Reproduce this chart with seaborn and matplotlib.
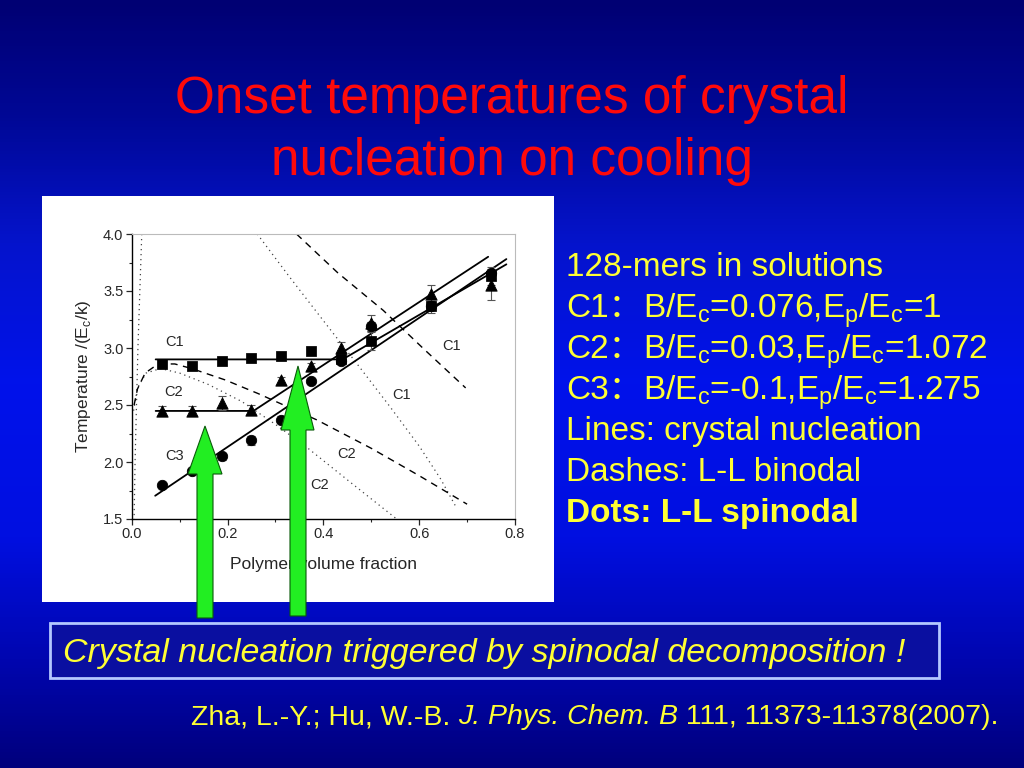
import numpy as np
import pandas as pd
import seaborn as sns
import matplotlib.pyplot as plt
from matplotlib.patches import Rectangle, Polygon
from matplotlib.colors import LinearSegmentedColormap
from matplotlib.ticker import MultipleLocator, FormatStrFormatter

# polymer volume fractions of the simulated points
phi = [0.0625, 0.125, 0.1875, 0.25, 0.3125, 0.375, 0.4375, 0.5, 0.625, 0.75]
# onset temperatures
t_c1 = [2.86, 2.84, 2.89, 2.91, 2.93, 2.97, 2.90, 3.06, 3.37, 3.63]
t_c2 = [2.45, 2.45, 2.52, 2.46, 2.72, 2.84, 3.00, 3.22, 3.47, 3.55]
t_c3 = [1.80, 1.92, 2.05, 2.19, 2.37, 2.71, 2.89, 3.19, 3.37, 3.66]
err_c1 = [0.02, 0.02, 0.02, 0.03, 0.02, 0.02, 0.03, 0.08, 0.06, 0.08]
err_c2 = [0.04, 0.04, 0.06, 0.04, 0.03, 0.03, 0.05, 0.07, 0.08, 0.13]
err_c3 = [0.02, 0.02, 0.03, 0.04, 0.03, 0.03, 0.03, 0.04, 0.04, 0.03]

# crystal nucleation lines
fit_c1_x = [0.05, 0.44, 0.782]
fit_c1_y = [2.90, 2.90, 3.734]
fit_c2_x = [0.05, 0.254, 0.744]
fit_c2_y = [2.448, 2.448, 3.80]
fit_c3_x = [0.049, 0.782]
fit_c3_y = [1.704, 3.78]

# L-L binodals (dashes)
bin_c1_x = [0.344, 0.43, 0.525, 0.61, 0.697]
bin_c1_y = [4.0, 3.66, 3.33, 2.99, 2.65]
bin_c2_x = [0.005, 0.012, 0.028, 0.055, 0.09, 0.125, 0.195, 0.264, 0.386, 0.5, 0.6, 0.7]
bin_c2_y = [2.50, 2.64, 2.78, 2.86, 2.86, 2.82, 2.72, 2.60, 2.37, 2.12, 1.88, 1.63]

# L-L spinodals (dots)
spi_c1_x = [0.262, 0.33, 0.40, 0.476, 0.54, 0.60, 0.645, 0.675]
spi_c1_y = [4.0, 3.62, 3.24, 2.83, 2.48, 2.14, 1.85, 1.62]
spi_c2_x = [0.004, 0.012, 0.03, 0.06, 0.1, 0.16, 0.23, 0.30, 0.368, 0.46, 0.553]
spi_c2_y = [2.45, 2.65, 2.78, 2.82, 2.78, 2.68, 2.53, 2.33, 2.12, 1.81, 1.50]
spi_c3_x = [0.021, 0.017, 0.013, 0.010, 0.007, 0.005]
spi_c3_y = [4.0, 3.5, 3.0, 2.5, 2.0, 1.5]

curve_labels = [("C1", 0.09, 3.05), ("C2", 0.087, 2.61), ("C3", 0.09, 2.05),
                ("C1", 0.668, 3.02), ("C1", 0.563, 2.59),
                ("C2", 0.449, 2.07), ("C2", 0.393, 1.80)]

side_heads = ["", "C1\uff1a", "C2\uff1a", "C3\uff1a", "", "", ""]
side_text = ["128-mers in solutions",
             "B/E$_\\mathregular{c}$=0.076,E$_\\mathregular{p}$/E$_\\mathregular{c}$=1",
             "B/E$_\\mathregular{c}$=0.03,E$_\\mathregular{p}$/E$_\\mathregular{c}$=1.072",
             "B/E$_\\mathregular{c}$=-0.1,E$_\\mathregular{p}$/E$_\\mathregular{c}$=1.275",
             "Lines: crystal nucleation",
             "Dashes: L-L binodal",
             "Dots: L-L spinodal"]

cite_parts = [("Zha, L.-Y.; Hu, W.-B. ", 'normal'), ("J. Phys. Chem. B", 'italic'),
              (" 111, 11373-11378(2007).", 'normal')]

sns.set_style("ticks")
plt.rcParams['font.family'] = ['Liberation Sans', 'Noto Sans CJK SC', 'DejaVu Sans']

W, H = 1024, 768
fig = plt.figure(figsize=(10.24, 7.68), dpi=100)


def fx(px):
    return px / W


def fy(py):
    return 1 - py / H


# slide background
bg = fig.add_axes([0, 0, 1, 1], zorder=-5)
slide = LinearSegmentedColormap.from_list('slide', [
    (0.0, '#000073'), (0.15, '#000896'), (0.32, '#0514cd'), (0.5, '#0012eb'),
    (0.7, '#000fe1'), (0.86, '#0006b0'), (1.0, '#00007d')])
bg.imshow(np.linspace(0, 1, 256)[:, None], aspect='auto', cmap=slide, extent=[0, 1, 0, 1])
bg.axis('off')

# white panel behind the plot
fig.add_artist(Rectangle((fx(42), fy(602)), fx(554) - fx(42), fy(196) - fy(602),
                         transform=fig.transFigure, facecolor='white', edgecolor='none', zorder=-1))

ax = fig.add_axes([fx(131.7), fy(519), fx(515) - fx(131.7), fy(234) - fy(519)])
ax.set_facecolor('white')

for xs, ys in [(spi_c1_x, spi_c1_y), (spi_c2_x, spi_c2_y), (spi_c3_x, spi_c3_y)]:
    sns.lineplot(x=xs, y=ys, ax=ax, sort=False, estimator=None, color='#444444',
                 lw=0.9, linestyle=(0, (1, 3)))
for xs, ys in [(bin_c1_x, bin_c1_y), (bin_c2_x, bin_c2_y)]:
    sns.lineplot(x=xs, y=ys, ax=ax, sort=False, estimator=None, color='black',
                 lw=1.0, linestyle=(0, (5, 4)))
for xs, ys in [(fit_c1_x, fit_c1_y), (fit_c2_x, fit_c2_y), (fit_c3_x, fit_c3_y)]:
    sns.lineplot(x=xs, y=ys, ax=ax, sort=False, estimator=None, color='black', lw=1.3)

for t, e in [(t_c1, err_c1), (t_c2, err_c2), (t_c3, err_c3)]:
    ax.errorbar(phi, t, yerr=e, fmt='none', ecolor='#555555', elinewidth=0.8,
                capsize=3, capthick=0.8, zorder=4)

df = pd.DataFrame({'phi': phi * 3, 'T': t_c1 + t_c2 + t_c3,
                   'case': ['C1'] * 10 + ['C2'] * 10 + ['C3'] * 10})
for case, mk, size in [('C1', 's', 46), ('C2', '^', 66), ('C3', 'o', 56)]:
    sns.scatterplot(data=df[df['case'] == case], x='phi', y='T', marker=mk,
                    color='black', edgecolor='black', s=size, legend=False, ax=ax, zorder=5)

for lab, x, y in curve_labels:
    ax.text(x, y, lab, fontsize=10.5, ha='center', va='center')

ax.set_xlim(0, 0.8)
ax.set_ylim(1.5, 4.0)
ax.xaxis.set_major_locator(MultipleLocator(0.2))
ax.xaxis.set_minor_locator(MultipleLocator(0.1))
ax.yaxis.set_major_locator(MultipleLocator(0.5))
ax.yaxis.set_minor_locator(MultipleLocator(0.25))
ax.xaxis.set_major_formatter(FormatStrFormatter('%.1f'))
ax.yaxis.set_major_formatter(FormatStrFormatter('%.1f'))
ax.tick_params(which='major', direction='out', length=4, width=0.9, labelsize=10.5, pad=2)
ax.tick_params(which='minor', direction='out', length=2.5, width=0.8)
for s in ['top', 'right']:
    ax.spines[s].set_color('#bbbbbb')
    ax.spines[s].set_linewidth(0.8)
for s in ['left', 'bottom']:
    ax.spines[s].set_color('black')
    ax.spines[s].set_linewidth(1.0)
ax.set_xlabel('Polymer volume fraction', fontsize=12.5, labelpad=11)
ax.set_ylabel('Temperature /(E$_\\mathregular{c}$/k)', fontsize=12.5, labelpad=7)

# title
fig.text(fx(512), fy(113), 'Onset temperatures of crystal', color='#ff0a0a',
         fontsize=37, ha='center', va='baseline')
fig.text(fx(512), fy(175), 'nucleation on cooling', color='#ff0a0a',
         fontsize=37, ha='center', va='baseline')

# side notes
for i, (head, body) in enumerate(zip(side_heads, side_text)):
    base = fy(276 + 41 * i)
    weight = 'bold' if i == 6 else 'normal'
    if head:
        fig.text(fx(566), base, head, color='#ffff33', fontsize=24, va='baseline')
        fig.text(fx(643), base, body, color='#ffff33', fontsize=24, va='baseline')
    else:
        fig.text(fx(566), base, body, color='#ffff33', fontsize=24, va='baseline',
                 fontweight=weight)

# bottom banner
fig.add_artist(Rectangle((fx(50), fy(678)), fx(939) - fx(50), fy(623) - fy(678),
                         transform=fig.transFigure, facecolor='#0a0fa0',
                         edgecolor='#b4c8ff', lw=2, zorder=1))
fig.text(fx(63), fy(662), 'Crystal nucleation triggered by spinodal decomposition !',
         color='#ffff33', fontsize=24.5, style='italic', va='baseline', zorder=2)

# citation, pieced together so the journal name is italic
renderer = fig.canvas.get_renderer()
xpos = 191
for txt, st in cite_parts:
    t = fig.text(fx(xpos), fy(724), txt, color='#ffff33', fontsize=20.5,
                 style=st, va='baseline')
    xpos = t.get_window_extent(renderer).x1

# green arrows
for sl, sr, bottom, hb, hl, hr, tx, ty in [(197, 213, 618, 474, 188, 222, 205, 426),
                                           (290, 306, 616, 430, 281, 314, 298, 366)]:
    pts = [(sl, bottom), (sl, hb), (hl, hb), (tx, ty), (hr, hb), (sr, hb), (sr, bottom)]
    fig.add_artist(Polygon([(fx(a), fy(b)) for a, b in pts], closed=True,
                           transform=fig.transFigure, facecolor='#22ee22',
                           edgecolor='#0a5a0a', lw=0.8, zorder=10))

fig.savefig('out.png', dpi=100)
